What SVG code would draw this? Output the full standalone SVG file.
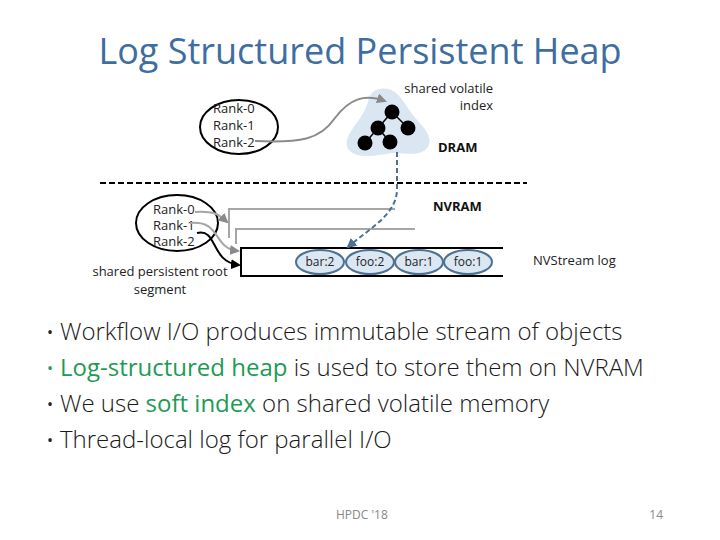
<svg xmlns="http://www.w3.org/2000/svg" width="720" height="540" viewBox="0 0 720 540">
<defs>
<style>
.t{font-family:"Open Sans","DejaVu Sans",sans-serif;fill:#222}
.lbl{font-size:13px}
.b{font-weight:bold;font-size:13px;fill:#111}
.bul{font-size:24px;font-weight:300;fill:#1a1a1a}
.g{fill:#1e9a54;font-weight:400}
.ov{fill:#dbe7f3;stroke:#4d7191;stroke-width:2}
.nd{fill:#000}
.gl{fill:none;stroke:#a6a6a6;stroke-width:2}
</style>
<marker id="ag" viewBox="0 0 10 10" refX="8" refY="5" markerWidth="5" markerHeight="5" orient="auto"><path d="M0,0 L10,5 L0,10 z" fill="#8a8a8a"/></marker>
<marker id="ab" viewBox="0 0 10 10" refX="8" refY="5" markerWidth="5" markerHeight="5" orient="auto"><path d="M0,0 L10,5 L0,10 z" fill="#000"/></marker>
<marker id="as" viewBox="0 0 10 10" refX="8" refY="5" markerWidth="5" markerHeight="5" orient="auto"><path d="M0,0 L10,5 L0,10 z" fill="#4d7191"/></marker>
</defs>
<rect width="720" height="540" fill="#fff"/>
<text class="t" x="360" y="64" text-anchor="middle" font-size="36" style="fill:#3d6e9f">Log Structured Persistent Heap</text>

<g id="dram-ranks">
<ellipse cx="239" cy="127" rx="39" ry="27" fill="none" stroke="#000" stroke-width="2"/>
<text class="t lbl" x="213" y="113">Rank-0</text>
<text class="t lbl" x="213" y="130">Rank-1</text>
<text class="t lbl" x="213" y="147">Rank-2</text>
</g>

<g id="index">
<path d="M380,89 C396,86 402,100 412,114 C422,126 434,136 428,147 C420,158 404,152 392,153 C378,155 358,160 349,150 C341,139 356,126 364,112 C370,100 368,91 380,89 Z" fill="#dae6f2"/>
<g stroke="#000" stroke-width="1.5">
<line x1="392" y1="112" x2="378" y2="128"/>
<line x1="392" y1="112" x2="408" y2="128"/>
<line x1="378" y1="128" x2="365" y2="143"/>
<line x1="378" y1="128" x2="390" y2="142"/>
</g>
<circle class="nd" cx="392" cy="112" r="7.5"/>
<circle class="nd" cx="378" cy="128" r="7.5"/>
<circle class="nd" cx="408" cy="128" r="7.5"/>
<circle class="nd" cx="365" cy="143" r="7.5"/>
<circle class="nd" cx="390" cy="142" r="7.5"/>
<text class="t lbl" x="493" y="93" text-anchor="end">shared volatile</text>
<text class="t lbl" x="493" y="110" text-anchor="end">index</text>
<text class="t b" x="438" y="152">DRAM</text>
</g>

<line x1="100" y1="183" x2="527" y2="183" stroke="#000" stroke-width="2" stroke-dasharray="6,3"/>
<text class="t b" x="433" y="211">NVRAM</text>

<g id="nvram-ranks">
<ellipse cx="177" cy="223" rx="41" ry="28" fill="none" stroke="#000" stroke-width="2"/>
<text class="t lbl" x="153" y="214">Rank-0</text>
<text class="t lbl" x="153" y="230">Rank-1</text>
<text class="t lbl" x="153" y="246">Rank-2</text>
</g>

<g id="log">
<polyline class="gl" points="395,209 229,209 229,238"/>
<polyline class="gl" points="415,229 236,229 236,244"/>
<path d="M503,248 L241,248 L241,276 L503,276" fill="none" stroke="#000" stroke-width="2"/>
<ellipse class="ov" cx="320" cy="262" rx="24" ry="12"/>
<ellipse class="ov" cx="370" cy="262" rx="24" ry="12"/>
<ellipse class="ov" cx="419" cy="262" rx="24" ry="12"/>
<ellipse class="ov" cx="468" cy="262" rx="24" ry="12"/>
<text class="t" font-size="12" x="320" y="266" text-anchor="middle">bar:2</text>
<text class="t" font-size="12" x="370" y="266" text-anchor="middle">foo:2</text>
<text class="t" font-size="12" x="419" y="266" text-anchor="middle">bar:1</text>
<text class="t" font-size="12" x="468" y="266" text-anchor="middle">foo:1</text>
<text class="t lbl" x="533" y="265">NVStream log</text>
<text class="t lbl" x="160" y="276" text-anchor="middle">shared persistent root</text>
<text class="t lbl" x="160" y="294" text-anchor="middle">segment</text>
</g>

<g id="connectors">
<path d="M255,141 C300,143 320,140 335,118 C350,98 365,94 385,101" fill="none" stroke="#8a8a8a" stroke-width="2" marker-end="url(#ag)"/>
<path d="M397,152 L397,190 C396,215 370,228 348,247" fill="none" stroke="#4d7191" stroke-width="2" stroke-dasharray="5,3" marker-end="url(#as)"/>
<path d="M195,212 C215,211 218,214 227,222" fill="none" stroke="#a6a6a6" stroke-width="2" marker-end="url(#ag)"/>
<path d="M190,223 C222,220 212,248 238,251" fill="none" stroke="#a6a6a6" stroke-width="2" marker-end="url(#ag)"/>
<path d="M197,233 C218,228 210,262 239,265" fill="none" stroke="#000" stroke-width="2" marker-end="url(#ab)"/>
</g>

<g id="bullets">
<text class="t" font-size="16" x="47" y="338">•</text>
<text class="t bul" x="60" y="340">Workflow I/O produces immutable stream of objects</text>
<text class="t" font-size="16" x="47" y="374" style="fill:#1e9a54">•</text>
<text class="t bul" x="60" y="376"><tspan class="g">Log-structured heap</tspan> is used to store them on NVRAM</text>
<text class="t" font-size="16" x="47" y="410">•</text>
<text class="t bul" x="60" y="412">We use <tspan class="g">soft index</tspan> on shared volatile memory</text>
<text class="t" font-size="16" x="47" y="446">•</text>
<text class="t bul" x="60" y="448">Thread-local log for parallel I/O</text>
</g>

<text class="t" font-size="12" x="336" y="519" style="fill:#888">HPDC '18</text>
<text class="t" font-size="12" x="663" y="519" text-anchor="end" style="fill:#888">14</text>
</svg>
